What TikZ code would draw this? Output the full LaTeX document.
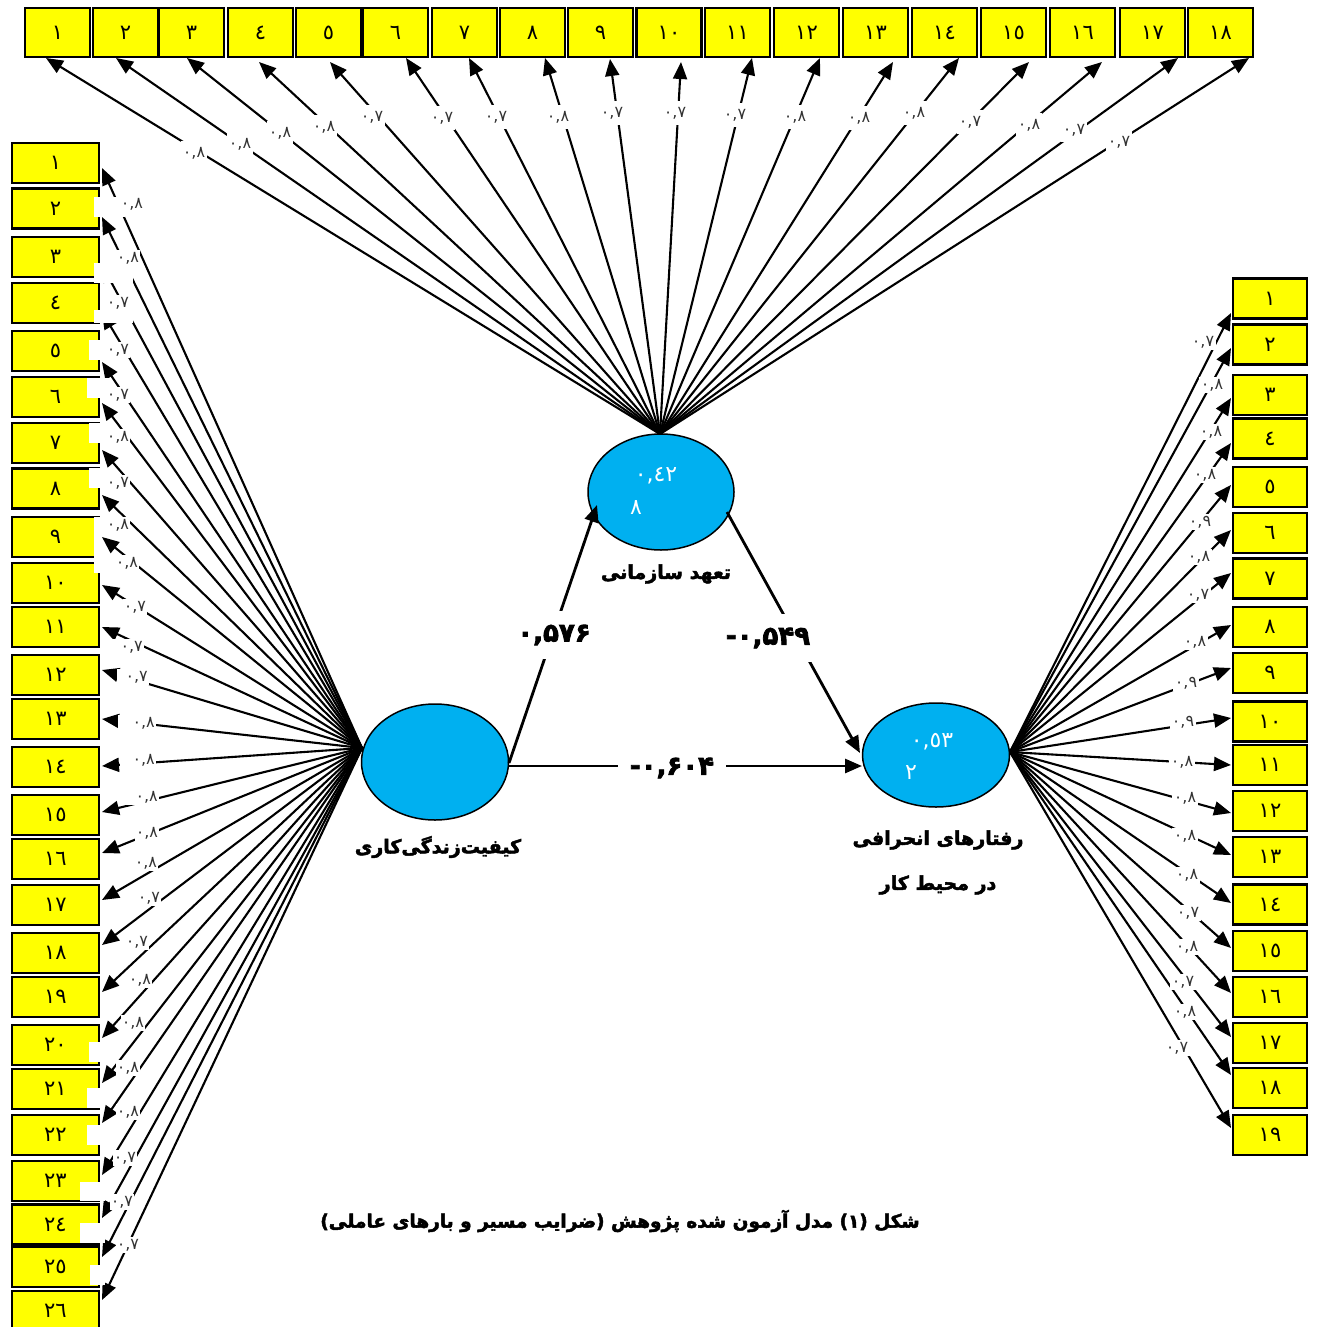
\documentclass[tikz,border=0pt]{standalone}
\usepackage{fontspec}
\usetikzlibrary{arrows.meta,shapes.geometric}
\TeXXeTstate=1
\newfontfamily\arabicfont[Script=Arabic]{DejaVu Sans}
\newfontfamily\arabicheavy[Script=Arabic,FakeBold=2.5]{DejaVu Sans Bold}
\newfontfamily\digitfont{DejaVu Sans}
\newfontfamily\digitheavy[FakeBold=3]{DejaVu Sans Bold}
\definecolor{boxyellow}{HTML}{FFFF00}
\definecolor{latentblue}{HTML}{00B0F0}
\begin{document}
\begin{tikzpicture}[x=1pt,y=-1pt,
  ind/.style={draw=black,line width=2.6pt,fill=boxyellow,inner sep=0pt,font=\digitfont\fontsize{21}{23}\selectfont},
  topind/.style={ind,minimum width=65pt,minimum height=49pt},
  sideind/.style={ind,minimum width=87pt,minimum height=40pt},
  rind/.style={ind,minimum width=74pt,minimum height=40pt},
  load/.style={draw=black,line width=2.1pt,-{Triangle[length=17pt,width=14pt]}},
  lab/.style={fill=white,inner xsep=1pt,inner ysep=2pt,text=black!80,font=\digitfont\fontsize{16}{16}\selectfont},
  latent/.style={ellipse,draw=black,line width=1.5pt,fill=latentblue,inner sep=0pt},
  pathar/.style={draw=black,line width=2.8pt,-{Triangle[length=17pt,width=14pt]}},
  coef/.style={fill=white,inner xsep=12pt,inner ysep=14pt,font=\digitheavy\fontsize{26}{28}\selectfont},
  cname/.style={font=\arabicheavy\fontsize{19}{26}\selectfont,align=center},
  inner/.style={text=white,font=\digitfont\fontsize{22}{22}\selectfont,inner sep=0pt},
  patch/.style={fill=white,draw=none},
]
\useasboundingbox (0,0) rectangle (1318,1327);

% origins
\coordinate (otop) at (660,434);
\coordinate (oleft) at (362,748);
\coordinate (oright) at (1010,752);

% top loadings
\foreach \i/\tx/\ty in {1/46/58,2/116/58,3/187/58,4/259/62,5/330/62,6/406/58,7/469/58,8/545/58,9/610/59,10/681/62,11/752/58,12/820/58,13/893/62,14/959/58,15/1029/62,16/1102/62,17/1178/58,18/1249/58}
  {\coordinate (tt\i) at (\tx,\ty); \draw[load] (otop) -- (tt\i);}

% left loadings
\foreach \i/\ty in {1/168,2/217,3/265,4/312,5/362,6/403,7/450,8/495,9/537,10/585,11/627,12/670,13/719,14/766,15/812,16/853,17/900,18/945,19/992,20/1038,21/1083,22/1123,23/1175,24/1218,25/1257,26/1300}
  {\coordinate (lt\i) at (102,\ty); \draw[load] (oleft) -- (lt\i);}

% right loadings
\foreach \i/\ty in {1/313,2/348,3/398,4/443,5/485,6/530,7/573,8/625,9/668,10/718,11/765,12/813,13/855,14/903,15/948,16/993,17/1037,18/1075,19/1128}
  {\coordinate (rt\i) at (1231,\ty); \draw[load] (oright) -- (rt\i);}

% latent variables
\node[latent,minimum width=147pt,minimum height=116pt] (qwl) at (435,762) {};
\node[latent,minimum width=146pt,minimum height=116pt] (oc) at (661,492) {};
\node[latent,minimum width=147pt,minimum height=104pt] (dev) at (936,755) {};

\node[inner] (ocr1) at (656,476) {٠,٤٢};
\node[inner] (ocr2) at (636,508) {٨};
\node[inner] (dvr1) at (932,742) {٠,٥٣};
\node[inner] (dvr2) at (911,773) {٢};

% structural paths
\coordinate (p1s) at (509,763);
\coordinate (p1e) at (597,505);
\coordinate (p2s) at (727,512);
\coordinate (p2e) at (860,753);
\coordinate (p3s) at (509,766);
\coordinate (p3e) at (862,766);
\draw[pathar] (p1s) -- (p1e);
\draw[pathar] (p2s) -- (p2e);
\draw[pathar] (p3s) -- (p3e);
\node[coef] (c1) at (554,635) {٠,۵۷۶};
\node[coef] (c2) at (768,638) {-٠,۵۴۹};
\node[coef] (c3) at (672,768) {-٠,۶۰۴};

\node[cname] (n1) at (666,574) {\beginR تعهد سازمانی\endR};
\node[cname] (n2) at (438,847) {\beginR کیفیت‌زندگی‌کاری\endR};
\node[cname] (n3) at (938,840) {\beginR رفتارهای انحرافی\endR};
\node[cname] (n4) at (938,885) {\beginR در محیط کار\endR};

% boxes
\foreach \i/\cx/\d in {1/57.5/١,2/125.5/٢,3/191.5/٣,4/260.5/٤,5/328.5/٥,6/395.5/٦,7/464.5/٧,8/532.5/٨,9/600.5/٩,10/669/١٠,11/737.5/١١,12/806.5/١٢,13/875.5/١٣,14/944.5/١٤,15/1013.5/١٥,16/1082.5/١٦,17/1152.5/١٧,18/1220.5/١٨}
  {\node[topind] (t\i) at (\cx,32.5) {\d};}

\foreach \i/\cy/\d in {1/163/١,2/208.5/٢,3/257/٣,4/303/٤,5/351/٥,6/397/٦,7/443/٧,8/488.5/٨,9/537/٩,10/583/١٠,11/627/١١,12/675/١٢,13/719/١٣,14/767/١٤,15/815/١٥,16/859/١٦,17/905/١٧,18/953/١٨,19/997/١٩,20/1045/٢٠,21/1089/٢١,22/1135/٢٢,23/1181/٢٣,24/1224.5/٢٤,25/1267/٢٥,26/1311/٢٦}
  {\node[sideind] (l\i) at (55.5,\cy) {\d};}

\foreach \i/\cy/\d in {1/298.5/١,2/344.5/٢,3/395/٣,4/438.5/٤,5/487/٥,6/533/٦,7/578.5/٧,8/627/٨,9/673/٩,10/721.5/١٠,11/765/١١,12/811/١٢,13/857/١٣,14/904.5/١٤,15/951/١٥,16/997/١٦,17/1043/١٧,18/1088/١٨,19/1135/١٩}
  {\node[rind] (r\i) at (1270,\cy) {\d};}

% white patches over box edges
\foreach \xa/\ya/\xb/\yb in {94/197/125/217,94/263/133/283,94/310/133/323,89/340/115/360,87/378/110/398,89/423/110/443,89/468/110/488,94/517/115/533,94/533/101/573,89/1042/105/1062,87/1088/105/1108,87/1125/105/1145,80/1182/105/1201,80/1223/105/1243,90/1265/105/1285}
  {\fill[patch] (\xa,\ya) rectangle (\xb,\yb);}

% loading labels
\foreach \i/\x/\y/\v in {1/194/153/٨,2/240/144/٨,3/280/133/٨,4/324/127/٨,5/372/117/٧,6/442/118/٧,7/496/117/٧,8/558/117/٨,9/612/113/٧,10/675/113/٧,11/735/115/٧,12/795/117/٨,13/859/118/٨,14/914/113/٨,15/970/122/٧,16/1029/125/٨,17/1074/130/٧,18/1119/142/٧}
  {\node[lab,inner ysep=6pt,inner xsep=2pt] (tl\i) at (\x,\y) {٠,\v};}

\foreach \i/\x/\y/\v/\w in {1/132/204/٨/22,2/128/258/٨/22,3/118/303/٧/22,4/118/350/٧/22,5/118/395/٧/22,6/118/437/٨/22,7/118/483/٧/22,8/118/525/٨/22,9/127/563/٨/22,10/135/607/٧/22,11/132/647/٧/30,12/137/677/٧/30,13/144/723/٨/36,14/144/760/٨/34,15/147/797/٨/34,16/147/833/٨/22,17/146/863/٨/22,18/149/898/٧/22,19/137/942/٧/22,20/140/980/٨/22,21/133/1023/٨/22,22/128/1068/٨/22,23/128/1112/٨/22,24/125/1158/٧/22,25/122/1202/٧/22,26/128/1245/٧/22}
  {\node[lab,anchor=east,text width=\w pt,align=right] (ll\i) at (\x+12,\y) {٠,\v};}

\foreach \i/\x/\y/\v in {1/1203/342/٧,2/1212/385/٨,3/1211/432/٨,4/1205/475/٨,5/1200/522/٩,6/1199/557/٨,7/1198/595/٧,8/1195/642/٨,9/1186/683/٩,10/1183/722/٩,11/1182/762/٨,12/1185/798/٨,13/1185/836/٨,14/1187/875/٨,15/1188/913/٧,16/1187/947/٨,17/1183/982/٧,18/1185/1012/٨,19/1177/1048/٧}
  {\node[lab,inner xsep=2pt] (rl\i) at (\x,\y) {٠,\v};}

% caption
\node[font=\arabicheavy\fontsize{18.5}{22}\selectfont] (cap) at (620,1221) {\beginR شکل (۱) مدل آزمون شده پژوهش (ضرایب مسیر  و بارهای عاملی)\endR};
\end{tikzpicture}
\end{document}
